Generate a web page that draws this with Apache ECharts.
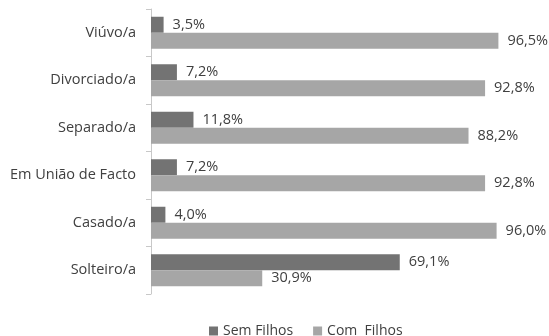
<!DOCTYPE html>
<html>
<head>
<meta charset="utf-8">
<script src="https://cdn.jsdelivr.net/npm/echarts@6/dist/echarts.min.js"></script>
<style>
  html, body { margin: 0; padding: 0; background: #ffffff; }
  #chart { width: 549px; height: 336px; }
</style>
</head>
<body>
<div id="chart"></div>
<script>
// Marital status groups, listed top to bottom
const categories = ['Viúvo/a', 'Divorciado/a', 'Separado/a', 'Em União de Facto', 'Casado/a', 'Solteiro/a'];
const semFilhos = [3.5, 7.2, 11.8, 7.2, 4.0, 69.1];
const comFilhos = [96.5, 92.8, 88.2, 92.8, 96.0, 30.9];
const seriesNames = ['Sem Filhos', 'Com  Filhos'];

const FONT = 'Open Sans';
const pct = p => p.value.toFixed(1).replace('.', ',') + '%';

const chart = echarts.init(document.getElementById('chart'), null, { renderer: 'canvas' });

const labelStyle = {
  show: true,
  position: 'right',
  distance: 9,
  formatter: pct,
  color: '#404040',
  fontFamily: FONT,
  fontSize: 14.5
};

chart.setOption({
  animation: false,
  backgroundColor: '#ffffff',
  grid: { left: 151, right: 38, top: 9, bottom: 42 },
  xAxis: {
    type: 'value',
    min: 0,
    max: 100,
    show: false
  },
  yAxis: {
    type: 'category',
    data: categories,
    inverse: true,
    axisLine: { show: true, lineStyle: { color: '#c8c8c8', width: 1 } },
    axisTick: { show: true, length: 5, lineStyle: { color: '#c8c8c8' } },
    axisLabel: { color: '#404040', fontFamily: FONT, fontSize: 14.5, margin: 15 },
    splitLine: { show: false }
  },
  legend: {
    top: 319,
    left: 204,
    itemWidth: 9,
    itemHeight: 9,
    itemGap: 20,
    icon: 'rect',
    textStyle: { color: '#404040', fontFamily: FONT, fontSize: 14 },
    data: seriesNames
  },
  series: [
    {
      name: seriesNames[0],
      type: 'bar',
      data: semFilhos,
      barWidth: 16,
      barGap: '0%',
      itemStyle: { color: '#737373' },
      label: labelStyle
    },
    {
      name: seriesNames[1],
      type: 'bar',
      data: comFilhos,
      barWidth: 16,
      barGap: '0%',
      itemStyle: { color: '#a6a6a6' },
      label: labelStyle
    }
  ]
});
</script>
</body>
</html>
